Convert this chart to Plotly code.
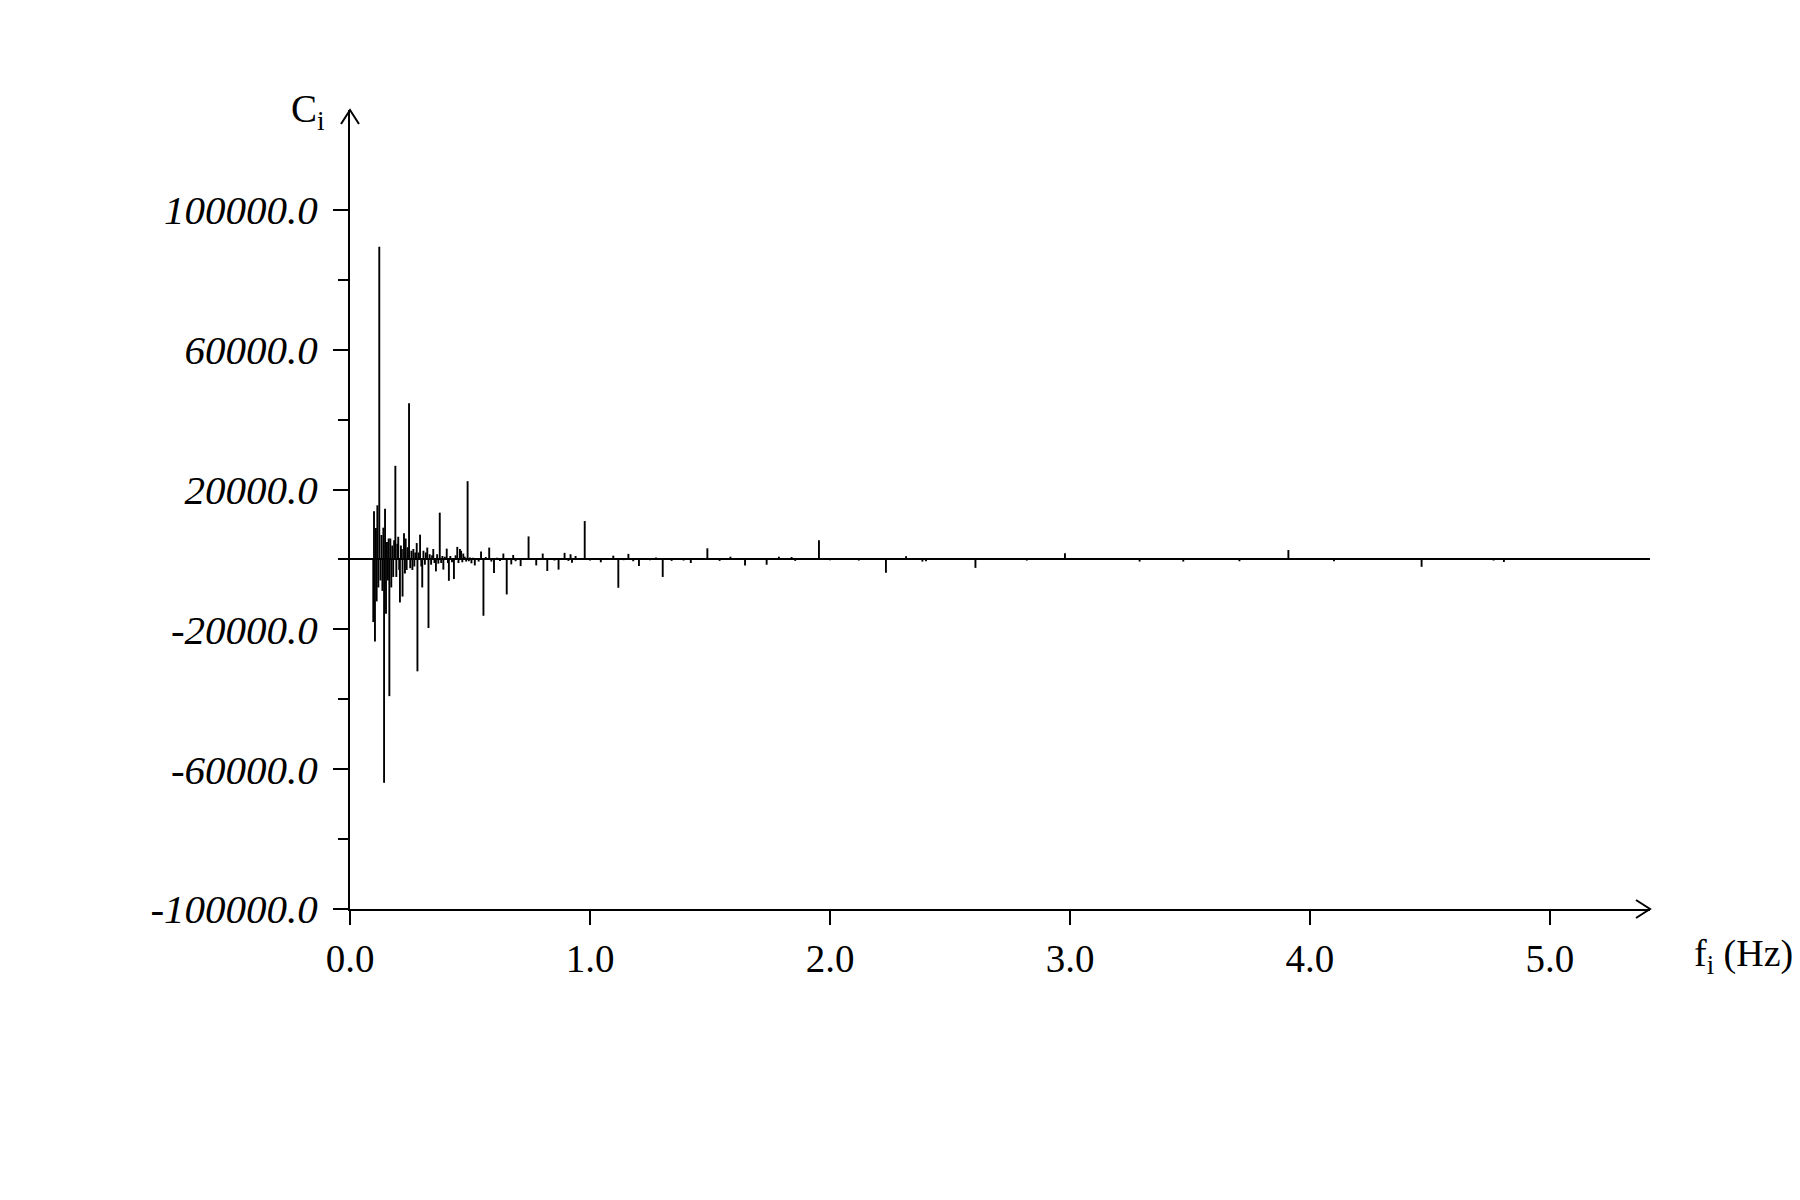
import plotly.graph_objects as go

# Frequencies f_i (Hz) and coefficients C_i
freq = [0.097, 0.100, 0.104, 0.108, 0.111, 0.114, 0.118, 0.122, 0.127, 0.131,
        0.135, 0.139, 0.142, 0.146, 0.150, 0.154, 0.158, 0.161, 0.164, 0.168,
        0.172, 0.176, 0.180, 0.184, 0.189, 0.193, 0.197, 0.201, 0.205, 0.208,
        0.212, 0.216, 0.219, 0.225, 0.229, 0.232, 0.236, 0.240, 0.246, 0.251,
        0.256, 0.260, 0.264, 0.268, 0.272, 0.278, 0.281, 0.286, 0.292, 0.297,
        0.301, 0.306, 0.312, 0.316, 0.322, 0.327, 0.332, 0.338, 0.342, 0.347,
        0.352, 0.358, 0.363, 0.368, 0.374, 0.380, 0.385, 0.389, 0.395, 0.403,
        0.408, 0.412, 0.418, 0.425, 0.433, 0.440, 0.447, 0.452, 0.458, 0.463,
        0.468, 0.472, 0.478, 0.484, 0.490, 0.495, 0.500, 0.506, 0.512, 0.520,
        0.528, 0.536, 0.546, 0.556, 0.566, 0.580, 0.589, 0.600, 0.612, 0.625,
        0.639, 0.653, 0.662, 0.672, 0.680, 0.690, 0.711, 0.725, 0.744, 0.760,
        0.776, 0.803, 0.822, 0.840, 0.852, 0.869, 0.894, 0.910, 0.919, 0.925,
        0.940, 0.960, 0.978, 1.000, 1.030, 1.045, 1.065, 1.097, 1.118, 1.140,
        1.160, 1.180, 1.204, 1.225, 1.250, 1.275, 1.303, 1.340, 1.357, 1.370,
        1.390, 1.420, 1.455, 1.489, 1.540, 1.585, 1.610, 1.646, 1.700, 1.736,
        1.787, 1.840, 1.855, 1.880, 1.954, 2.000, 2.080, 2.120, 2.193, 2.233,
        2.317, 2.385, 2.400, 2.440, 2.500, 2.606, 2.700, 2.730, 2.760, 2.820,
        2.979, 3.120, 3.200, 3.290, 3.400, 3.472, 3.573, 3.660, 3.678, 3.706,
        3.762, 3.910, 4.100, 4.386, 4.465, 4.632, 4.765, 4.808, 4.900]

coef = [-17900, 13800, -23500, 9000, -12000, 15500, -8000, 89500, -6000, 7000,
        -9000, 9100, -63900, 14500, -15500, 5000, -6000, 6000, -39100, 6000,
        -8000, 4000, -5000, 5500, 26800, -5000, 4500, 6500, -3000, -12300,
        4000, 3000, -10600, 7500, -4000, 6000, -3000, 3500, 44700, -2500,
        2500, -3000, 3000, -2000, 2000, 4700, -32000, 2000, 7100, -2000,
        -8000, 2500, -1500, 2000, 3400, -19600, 1500, -1500, 1200, 3000,
        -1000, -3400, 1500, -1200, 13400, -1000, 1000, -2900, 800, 3100,
        -1000, -6100, 1000, -800, -5600, 1200, 3600, -1000, 3000, 2500,
        -800, 1700, 800, -600, 22400, -500, 600, -1100, 500, -1700,
        400, -600, 2300, -16100, 700, 3400, -600, -3900, 500, -400,
        1700, -10000, 400, -1400, 1300, -500, -1900, 300, 6600, 400,
        -1700, 1700, -3300, 300, -300, -2900, 1900, -400, 1500, -900,
        1000, 300, 11000, -300, 200, -800, 300, 1100, -8100, -200,
        1600, -500, -1900, 300, -200, 600, -5000, -400, 400, 300,
        -300, -1000, 200, 3200, -400, 800, 300, -1700, 200, -1500,
        800, 700, -400, 300, 5500, -200, 300, -300, 300, -3800,
        950, -600, -500, 200, 200, -2400, 200, 200, 150, -300,
        1800, 200, 200, -600, 150, -600, 400, 150, 300, -500,
        200, 2700, -500, 300, -2100, 300, -300, -700, 150]

x_ticks = [0, 1, 2, 3, 4, 5]
x_tick_labels = ["0.0", "1.0", "2.0", "3.0", "4.0", "5.0"]
y_ticks = [-100000, -60000, -20000, 20000, 60000, 100000]
y_tick_labels = ["-100000.0", "-60000.0", "-20000.0", "20000.0", "60000.0", "100000.0"]
y_minor_ticks = [-80000, -40000, 0, 40000, 80000]
x_max = 5.4167
y_min, y_max = -100000, 128600

FONT = "Liberation Serif"

# stick (impulse) representation
xs, ys = [], []
for f, c in zip(freq, coef):
    xs += [f, f, None]
    ys += [0, c, None]

fig = go.Figure()
fig.add_trace(go.Scatter(x=xs, y=ys, mode="lines",
                         line=dict(color="black", width=1.9),
                         hoverinfo="skip", showlegend=False))

fig.update_layout(
    width=1800, height=1200, autosize=False,
    paper_bgcolor="white", plot_bgcolor="white",
    margin=dict(l=342, r=158, t=102, b=299),
    font=dict(family=FONT, color="black", size=38),
    showlegend=False,
)

fig.update_xaxes(
    range=[0, x_max], showgrid=False, zeroline=False,
    showline=True, linecolor="black", linewidth=2,
    ticks="outside", ticklen=14, tickwidth=2, tickcolor="black",
    tickvals=x_ticks, ticktext=x_tick_labels,
    tickfont=dict(family=FONT, size=39, color="black"),
    ticklabelstandoff=0,
)
fig.update_yaxes(
    range=[y_min, y_max], showgrid=False,
    zeroline=True, zerolinecolor="black", zerolinewidth=1.5,
    showline=True, linecolor="black", linewidth=2,
    ticks="outside", ticklen=15, tickwidth=2, tickcolor="black",
    tickvals=y_ticks, ticktext=y_tick_labels,
    tickfont=dict(family=FONT, size=41, color="black", style="italic"),
    ticklabelstandoff=7,
    minor=dict(ticks="outside", ticklen=10, tickwidth=2, tickcolor="black",
               tickvals=y_minor_ticks, showgrid=False),
)

# open arrowheads at the axis ends (paper-referenced so they are not clipped)
fig.add_shape(type="path", xref="paper", yref="paper",
              xsizemode="pixel", ysizemode="pixel",
              xanchor=1, yanchor=0,
              path="M -14 9 L 0 0 L -14 -9",
              line=dict(color="black", width=2))
fig.add_shape(type="path", xref="paper", yref="paper",
              xsizemode="pixel", ysizemode="pixel",
              xanchor=0, yanchor=1,
              path="M -9 -14 L 0 0 L 9 -14",
              line=dict(color="black", width=2))

# axis titles
fig.add_annotation(text="C<sub>i</sub>", xref="paper", yref="paper",
                   x=-0.032, y=0.9975, xanchor="center", yanchor="middle",
                   showarrow=False, font=dict(family=FONT, size=39, color="black"))
fig.add_annotation(text="f<sub>i</sub> (Hz)", xref="paper", yref="paper",
                   x=1.0325, y=-0.059, xanchor="left", yanchor="middle",
                   showarrow=False, font=dict(family=FONT, size=38, color="black"))

fig.write_html("out.html")
